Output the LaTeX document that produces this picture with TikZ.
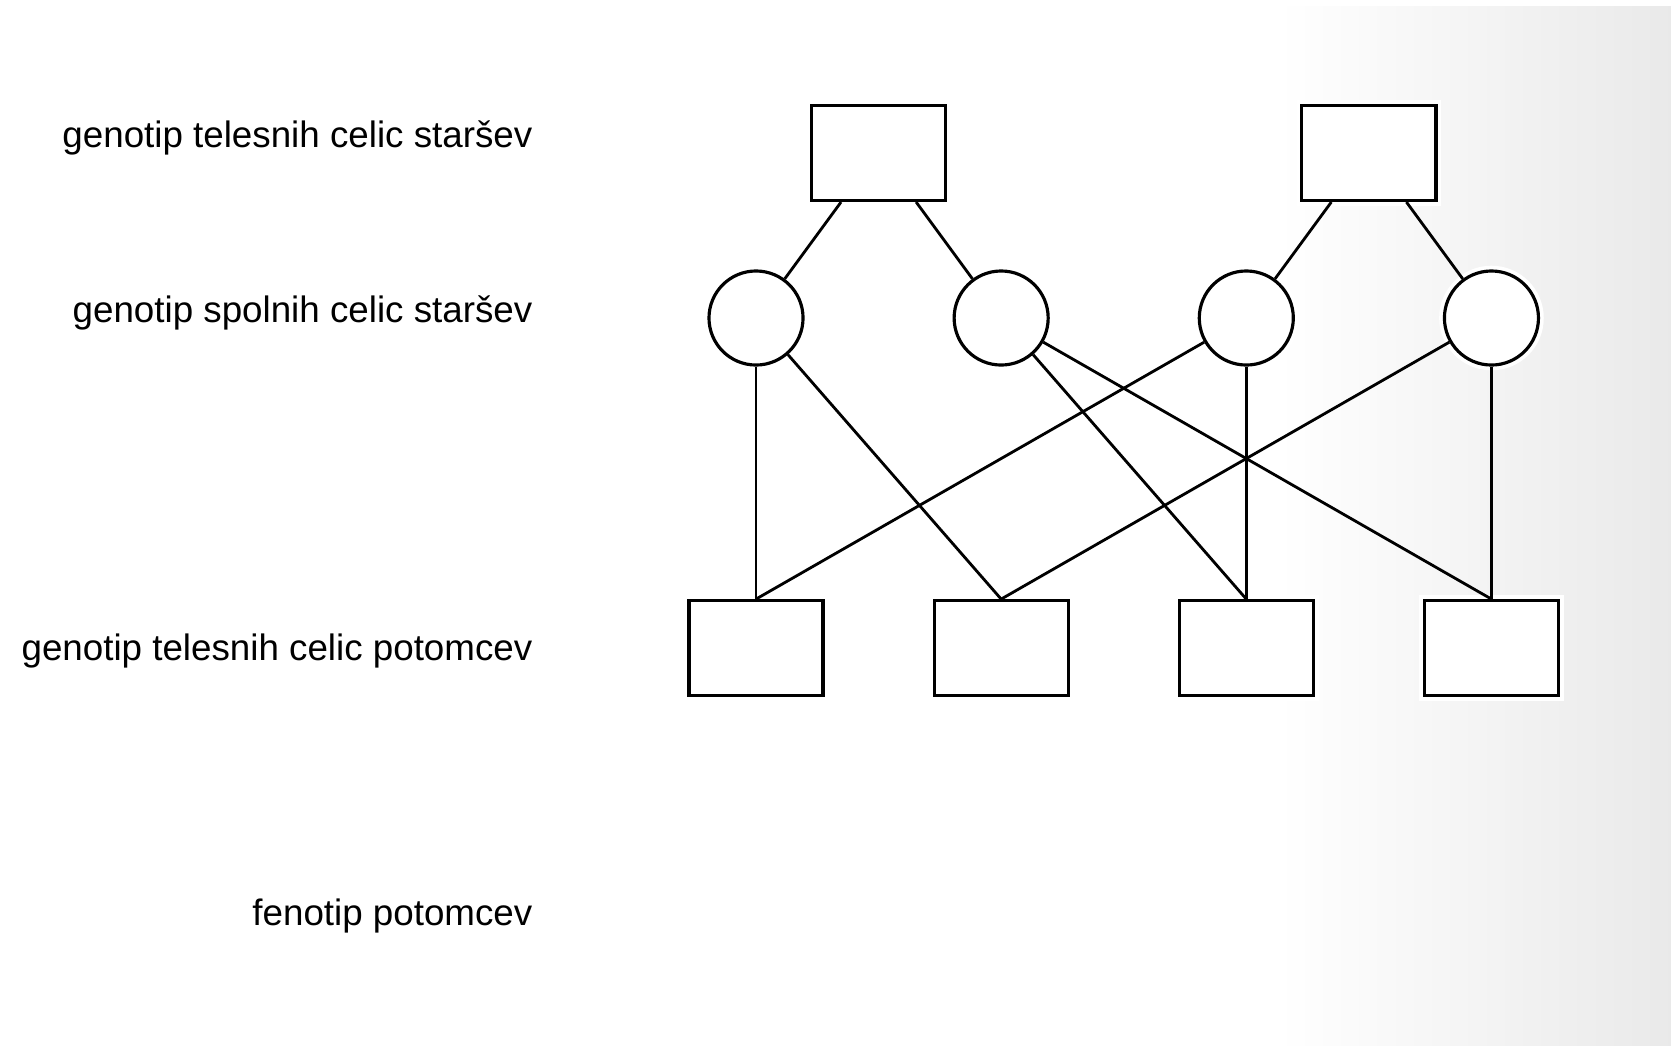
\documentclass[tikz,border=0pt]{standalone}
\usepackage{fontspec}
\setmainfont{Liberation Sans}
\usetikzlibrary{positioning}

\begin{document}
\begin{tikzpicture}[x=0.01cm,y=-0.01cm,node distance=2.45cm,on grid,
    cell/.style={draw,line width=0.9pt,fill=white,minimum width=1.34cm,minimum height=0.95cm,
      inner sep=0pt,preaction={draw=white,line width=3pt}},
    gamete/.style={draw,circle,line width=0.9pt,fill=white,minimum size=0.94cm,
      inner sep=0pt,preaction={draw=white,line width=3pt}},
    rowlabel/.style={anchor=east,inner sep=0pt,font=\fontsize{10.45pt}{12pt}\selectfont},
    link/.style={line width=0.8pt}]
        \useasboundingbox (0,0) rectangle (1671,1045);
        \shade[left color=white,right color=gray!17] (1277,6) rectangle (1671,1045);
        % row labels
        \node[rowlabel] (l_1) at (533,138) {genotip telesnih celic staršev};
        \node[rowlabel] (l_2) at (533,313) {genotip spolnih celic staršev};
        \node[rowlabel] (l_3) at (533,651) {genotip telesnih celic potomcev};
        \node[rowlabel] (l_4) at (533,916) {fenotip potomcev};
        % gametes
        \node[gamete] (g_1) at (756,318) {};
        \node[gamete] (g_2) [right=of g_1] {};
        \node[gamete] (g_3) [right=of g_2] {};
        \node[gamete] (g_4) [right=of g_3] {};
        % parents and offspring
        \node[cell] (p_1) [above right=1.65cm and 1.225cm of g_1] {};
        \node[cell] (p_2) [above right=1.65cm and 1.225cm of g_3] {};
        \node[cell] (o_1) [below=3.3cm of g_1] {};
        \node[cell] (o_2) [below=3.3cm of g_2] {};
        \node[cell] (o_3) [below=3.3cm of g_3] {};
        \node[cell] (o_4) [below=3.3cm of g_4] {};
        \path[link]
        ([xshift=-0.375cm]p_1.south) edge (g_1)
        ([xshift=0.375cm]p_1.south) edge (g_2)
        ([xshift=-0.375cm]p_2.south) edge (g_3)
        ([xshift=0.375cm]p_2.south) edge (g_4)
        (g_1) edge (o_1.north) edge (o_2.north)
        (g_2) edge (o_3.north) edge (o_4.north)
        (g_3) edge (o_1.north) edge (o_3.north)
        (g_4) edge (o_2.north) edge (o_4.north);
      \end{tikzpicture}
\end{document}
